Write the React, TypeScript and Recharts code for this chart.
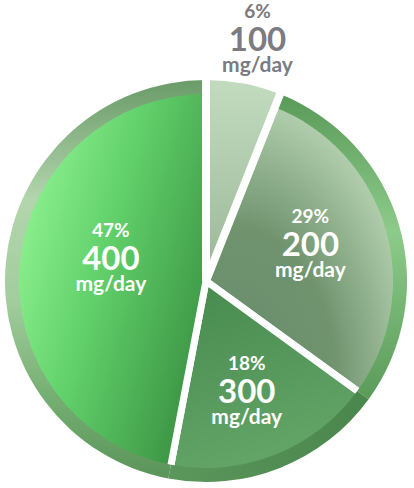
import { PieChart, Pie, Cell } from "recharts";

// daily dose per slice and its share of the pie (%)
const doses = [100, 200, 300, 400];
const shares = [6, 29, 18, 47];
const unit = "mg/day";

const sliceFills = ["url(#fill6)", "url(#fill29)", "url(#fill18)", "url(#fill47)"];
const ringFills = ["none", "url(#ring29)", "url(#ring18)", "url(#ring47)"];

const data = shares.map((share, i) => ({
  name: `${doses[i]} ${unit}`,
  dose: doses[i],
  share,
}));

const CX = 206;
const CY = 281;
const INNER_R = 188;
const RING_R = 201;
const FONT = "Lato, 'Open Sans', sans-serif";

// hand nudges so the label blocks sit where the designer put them
const labelNudge = [
  [5, 2],
  [0, -2],
  [-3, 5],
  [-11, -10],
];

// mid angle of each slice, clockwise from 12 o'clock
const midAngles = shares.map((s, i) => {
  const before = shares.slice(0, i).reduce((a, b) => a + b, 0);
  return 90 - (before + s / 2) * 3.6;
});

const renderLabel = (props: any) => {
  const { index } = props;
  const share = shares[index];
  const rad = (midAngles[index] * Math.PI) / 180;
  const outside = share < 10;
  let r: number;
  if (outside) {
    r = RING_R + 47;
  } else {
    // centroid of the sector
    const theta = (share / 100) * 2 * Math.PI;
    r = (4 * INNER_R * Math.sin(theta / 2)) / (3 * theta);
  }
  const x = CX + r * Math.cos(rad) + labelNudge[index][0];
  const y = CY - r * Math.sin(rad) - (outside ? 0 : 5) + labelNudge[index][1];
  const color = outside ? "#7b7b80" : "#ffffff";
  return (
    <text
      key={`lbl-${index}`}
      x={x}
      y={y}
      textAnchor="middle"
      fill={color}
      fontFamily={FONT}
      fontWeight={700}
    >
      <tspan x={x} y={y - 21} fontSize={19}>
        {share}%
      </tspan>
      <tspan x={x} y={y + 12} fontSize={33}>
        {doses[index]}
      </tspan>
      <tspan x={x} y={y + 33} fontSize={21}>
        {unit}
      </tspan>
    </text>
  );
};

export default function App() {
  return (
    <div style={{ width: 414, height: 488, background: "#fff" }}>
      <style>{"body{margin:0}"}</style>
      <PieChart width={414} height={488} margin={{ top: 0, right: 0, bottom: 0, left: 0 }}>
        <defs>
          <linearGradient id="fill47" x1="0" y1="0.2" x2="1" y2="0.75">
            <stop offset="0" stopColor="#96f796" />
            <stop offset="0.45" stopColor="#62d16b" />
            <stop offset="1" stopColor="#3a9142" />
          </linearGradient>
          <linearGradient id="fill6" x1="0" y1="0" x2="0" y2="1">
            <stop offset="0" stopColor="#c3dcbf" />
            <stop offset="1" stopColor="#99b797" />
          </linearGradient>
          <radialGradient id="fill29" cx="0.15" cy="0.95" r="1.05">
            <stop offset="0" stopColor="#66896a" />
            <stop offset="0.5" stopColor="#71946f" />
            <stop offset="0.85" stopColor="#a7c5a3" />
            <stop offset="1" stopColor="#bdd6b9" />
          </radialGradient>
          <linearGradient id="fill18" x1="0" y1="0" x2="0.3" y2="1">
            <stop offset="0" stopColor="#478a4d" />
            <stop offset="1" stopColor="#63a467" />
          </linearGradient>
          <linearGradient id="ring47" x1="0" y1="0" x2="0" y2="1">
            <stop offset="0" stopColor="#6a9b69" />
            <stop offset="0.3" stopColor="#b3d5ad" />
            <stop offset="0.55" stopColor="#a3cd9e" />
            <stop offset="0.8" stopColor="#74ae71" />
            <stop offset="1" stopColor="#5b945a" />
          </linearGradient>
          <linearGradient id="ring29" x1="0" y1="0" x2="0" y2="1">
            <stop offset="0" stopColor="#5a9a58" />
            <stop offset="0.45" stopColor="#8ccb89" />
            <stop offset="1" stopColor="#5b9b59" />
          </linearGradient>
          <linearGradient id="ring18" x1="0" y1="0" x2="1" y2="0">
            <stop offset="0" stopColor="#5b965b" />
            <stop offset="1" stopColor="#4a874c" />
          </linearGradient>
        </defs>

        {/* inner slices, white gaps between them */}
        <Pie
          data={data}
          dataKey="share"
          nameKey="name"
          cx={CX}
          cy={CY}
          outerRadius={INNER_R + 4}
          startAngle={90}
          endAngle={-270}
          stroke="#ffffff"
          strokeWidth={7}
          isAnimationActive={false}
        >
          {data.map((d, i) => (
            <Cell key={`in-${i}`} fill={sliceFills[i]} />
          ))}
        </Pie>

        {/* outer rim */}
        <Pie
          data={data}
          dataKey="share"
          nameKey="name"
          cx={CX}
          cy={CY}
          innerRadius={INNER_R - 1}
          outerRadius={RING_R}
          startAngle={90}
          endAngle={-270}
          stroke="none"
          isAnimationActive={false}
        >
          {data.map((d, i) => (
            <Cell key={`ring-${i}`} fill={ringFills[i]} stroke="none" />
          ))}
        </Pie>

        {/* the small slice reaches the full radius; labels on top */}
        <Pie
          data={data}
          dataKey="share"
          nameKey="name"
          cx={CX}
          cy={CY}
          outerRadius={RING_R + 4}
          startAngle={90}
          endAngle={-270}
          labelLine={false}
          label={renderLabel}
          isAnimationActive={false}
        >
          {data.map((d, i) => (
            <Cell
              key={`top-${i}`}
              fill={d.share < 10 ? sliceFills[i] : "none"}
              stroke={d.share < 10 ? "#ffffff" : "none"}
              strokeWidth={8}
            />
          ))}
        </Pie>
      </PieChart>
    </div>
  );
}
